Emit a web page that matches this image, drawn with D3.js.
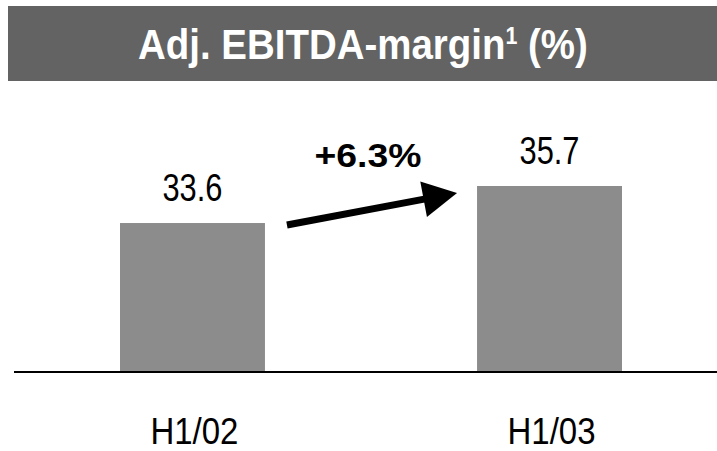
<!DOCTYPE html>
<html>
<head>
<meta charset="utf-8">
<script src="https://cdn.jsdelivr.net/npm/d3@7"></script>
<style>
  body { margin: 0; background: #fff; }
  text { font-family: "Liberation Sans", Arial, sans-serif; }
</style>
</head>
<body>
<div id="chart"></div>
<script>
// datos del grafico
const categorias = ['H1/02', 'H1/03'];
const valores = [33.6, 35.7];
const etiquetas = ['33.6', '35.7'];
const cambio = '+6.3%';
const titulo = 'Adj. EBITDA-margin';

const width = 717, height = 451;

const svg = d3.select('#chart').append('svg')
    .attr('width', width)
    .attr('height', height);

// comprime el texto en horizontal (la fuente original es condensada)
const condensar = (sel, cx, y, ancho) => {
    sel.attr('text-anchor', 'start').attr('x', 0).attr('y', 0);
    const w = sel.node().getBBox().width;
    const k = ancho / w;
    sel.attr('transform', `translate(${cx - ancho / 2},${y}) scale(${k},1)`);
};

// barra del titulo
svg.append('rect')
    .attr('x', 8).attr('y', 6)
    .attr('width', width - 8).attr('height', 75)
    .attr('fill', '#636363');

const t = svg.append('text')
    .attr('fill', '#fff')
    .style('font-size', '43px')
    .style('font-weight', 'bold');
t.append('tspan').text(titulo);
t.append('tspan').attr('dy', -15).style('font-size', '24px').text('1');
t.append('tspan').attr('dy', 15).text(' (%)');
condensar(t, 363, 59, 450);

// escalas
const x = d3.scaleBand()
    .domain(categorias)
    .range([120, 622])
    .paddingInner(0.594)
    .paddingOuter(0);

const y = d3.scaleLinear()
    .domain([25.15, 35.7])
    .range([372, 186]);

// barras
svg.selectAll('rect.barra')
    .data(valores)
    .enter().append('rect')
    .attr('class', 'barra')
    .attr('x', (d, i) => x(categorias[i]))
    .attr('y', d => y(d))
    .attr('width', x.bandwidth())
    .attr('height', d => y.range()[0] - y(d))
    .attr('fill', '#8c8c8c');

// linea base
svg.append('line')
    .attr('x1', 14).attr('x2', width)
    .attr('y1', 372).attr('y2', 372)
    .attr('stroke', '#000')
    .attr('stroke-width', 2);

// etiquetas de valor
valores.forEach((d, i) => {
    const txt = svg.append('text')
        .attr('class', 'valor')
        .style('font-size', '38px')
        .text(etiquetas[i]);
    condensar(txt, x(categorias[i]) + x.bandwidth() / 2, y(d) - 22, 60);
});

// etiquetas de categoria
categorias.forEach(c => {
    const txt = svg.append('text')
        .attr('class', 'cat')
        .style('font-size', '37px')
        .text(c);
    condensar(txt, x(c) + x.bandwidth() / 2 + 2, 444, 88);
});

// flecha
const p0 = [x(categorias[0]) + x.bandwidth() + 22, y(valores[0]) + 2];
const p1 = [x(categorias[1]) - 20, y(valores[1]) + 7];
const dx = p1[0] - p0[0], dy = p1[1] - p0[1];
const len = Math.hypot(dx, dy);
const ux = dx / len, uy = dy / len;
const largoPunta = 34, anchoPunta = 18;
const base = [p1[0] - ux * largoPunta, p1[1] - uy * largoPunta];

svg.append('line')
    .attr('x1', p0[0]).attr('y1', p0[1])
    .attr('x2', base[0] + ux * 2).attr('y2', base[1] + uy * 2)
    .attr('stroke', '#000')
    .attr('stroke-width', 7);

svg.append('path')
    .attr('d', d3.line()([
        p1,
        [base[0] - uy * anchoPunta, base[1] + ux * anchoPunta],
        [base[0] + uy * anchoPunta, base[1] - ux * anchoPunta]
    ]) + 'Z')
    .attr('fill', '#000');

const tc = svg.append('text')
    .style('font-size', '33px')
    .style('font-weight', 'bold')
    .text(cambio);
condensar(tc, 368, 167, 107);
</script>
</body>
</html>
